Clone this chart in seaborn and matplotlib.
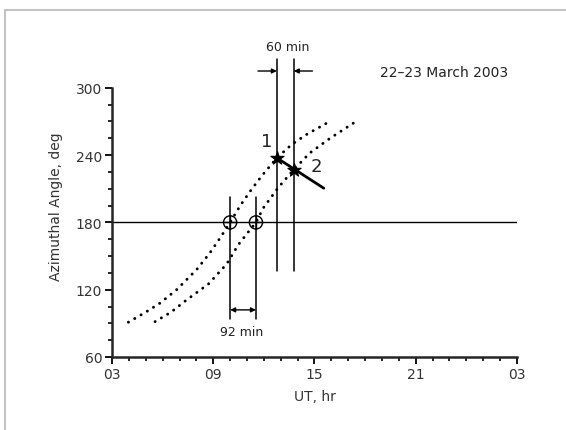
import matplotlib
matplotlib.use("Agg")
import matplotlib.pyplot as plt
from matplotlib.lines import Line2D
from matplotlib.ticker import MultipleLocator, FixedLocator
import seaborn as sns

# dotted azimuth curves (UT hours, degrees)
curve1_ut = [3.97, 5.0, 5.84, 6.83, 8.02, 8.81, 9.40, 10.0, 10.6, 11.2, 11.9, 12.77, 13.65, 14.54, 15.72]
curve1_az = [91, 100, 108, 120, 138, 153, 166, 180, 195, 208, 222, 237.5, 249.5, 258.5, 268.5]
curve2_ut = [5.55, 6.5, 7.43, 8.71, 9.80, 10.48, 11.0, 11.53, 11.97, 12.85, 13.77, 14.73, 15.92, 17.30]
curve2_az = [91.5, 100, 111, 125, 143, 160, 170, 180, 193, 211, 227.1, 242, 255, 268.5]

circle_ut = [10.0, 11.53]
circle_az = [180, 180]
star_ut = [12.77, 13.77]
star_az = [237.5, 227.1]
track_ut = [12.77, 15.55]
track_az = [237.5, 210.5]

xtick_pos = [3, 9, 15, 21, 27]
xtick_lab = ["03", "09", "15", "21", "03"]
ytick_pos = [60, 120, 180, 240, 300]

sns.set_style("ticks")
plt.rcParams["font.family"] = ["DejaVu Sans"]

fig = plt.figure(figsize=(5.66, 4.31), dpi=100)
ax = fig.add_axes([0.1979, 0.1694, 0.7155, 0.7546])

dots = dict(color="black", lw=2.1, linestyle=(0, (0.05, 2.45)),
            dash_capstyle="round", legend=False, sort=False)
sns.lineplot(x=curve1_ut, y=curve1_az, ax=ax, **dots)
sns.lineplot(x=curve2_ut, y=curve2_az, ax=ax, **dots)

# 180 deg reference line
ax.plot([3, 27], [180, 180], color="black", lw=1.0)

# verticals through the 180 deg crossings
for u in circle_ut:
    ax.plot([u, u], [94, 203], color="black", lw=1.1)
# verticals through the stars
for u in star_ut:
    ax.plot([u, u], [136.5, 326], color="black", lw=1.1)

sns.lineplot(x=track_ut, y=track_az, ax=ax, color="black", lw=2.0, legend=False)

sns.scatterplot(x=circle_ut, y=circle_az, ax=ax, marker="o", s=90,
                facecolor="none", edgecolor="black", linewidth=1.0, zorder=5)
sns.scatterplot(x=circle_ut, y=circle_az, ax=ax, marker="+", s=90,
                color="black", linewidth=1.0, zorder=5)
sns.scatterplot(x=star_ut, y=star_az, ax=ax, marker="*", s=100,
                color="black", edgecolor="black", zorder=6)

# arrows
ax.annotate("", xy=(circle_ut[1], 102), xytext=(circle_ut[0], 102),
            arrowprops=dict(arrowstyle="<|-|>", color="black", lw=1.0,
                            mutation_scale=7, shrinkA=0, shrinkB=0))
ax.annotate("", xy=(star_ut[0], 315), xytext=(11.65, 315),
            arrowprops=dict(arrowstyle="-|>", color="black", lw=1.0,
                            mutation_scale=7, shrinkA=0, shrinkB=0))
ax.annotate("", xy=(star_ut[1], 315), xytext=(14.88, 315),
            arrowprops=dict(arrowstyle="-|>", color="black", lw=1.0,
                            mutation_scale=7, shrinkA=0, shrinkB=0))

ax.text(10.69, 83, "92 min", ha="center", va="center", fontsize=9, color="#222222")
ax.text(13.43, 336.5, "60 min", ha="center", va="center", fontsize=9, color="#222222")
ax.text(22.67, 314, "22\u201323 March 2003", ha="center", va="center", fontsize=10, color="#222222")
ax.text(12.19, 253, "1", ha="center", va="center", fontsize=13, color="#222222")
ax.text(15.09, 230, "2", ha="center", va="center", fontsize=13, color="#222222")

ax.set_xlim(3, 27)
ax.set_ylim(60, 350)
ax.spines["top"].set_visible(False)
ax.spines["right"].set_visible(False)
ax.spines["left"].set_bounds(60, 300)
ax.spines["left"].set_linewidth(1.8)
ax.spines["bottom"].set_linewidth(1.8)

ax.xaxis.set_major_locator(FixedLocator(xtick_pos))
ax.set_xticklabels(xtick_lab)
ax.xaxis.set_minor_locator(MultipleLocator(1))
ax.yaxis.set_major_locator(FixedLocator(ytick_pos))
ax.yaxis.set_minor_locator(FixedLocator(list(range(60, 301, 15))))
ax.tick_params(which="major", length=5, width=1.3, labelsize=10,
               colors="black", labelcolor="#333333", pad=2)
ax.tick_params(which="minor", length=3, width=1.2, colors="black")

ax.set_xlabel("UT, hr", fontsize=10, color="#333333")
ax.set_ylabel("Azimuthal Angle, deg", fontsize=10, color="#333333")
ax.xaxis.set_label_coords(0.5, -0.098)
ax.yaxis.set_label_coords(-0.122, 0.465)

# light frame along the top and left of the picture
W, H = 566, 431
fig.add_artist(Line2D([5 / W, 5 / W], [0, 1 - 10.5 / H], transform=fig.transFigure,
                      color="#c4c4c4", lw=1.5))
fig.add_artist(Line2D([5 / W, 1], [1 - 10.5 / H, 1 - 10.5 / H], transform=fig.transFigure,
                      color="#c4c4c4", lw=1.5))

fig.savefig("out.png", dpi=100)
